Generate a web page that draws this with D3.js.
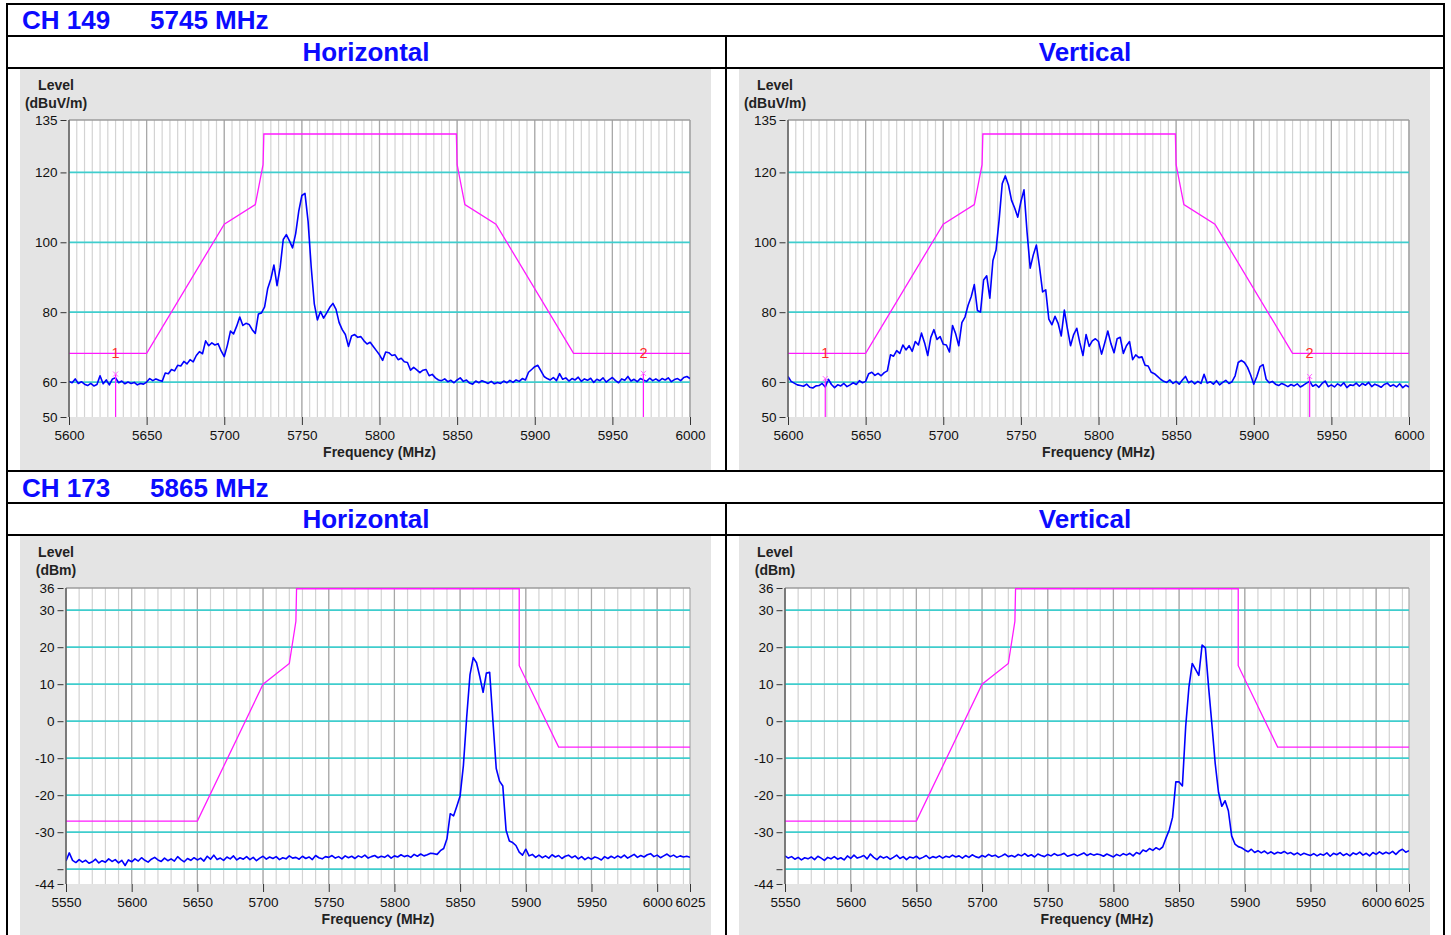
<!DOCTYPE html>
<html>
<head>
<meta charset="utf-8">
<script src="https://cdn.jsdelivr.net/npm/d3@7"></script>
<style>
body { margin: 0; background: #fff; }
</style>
</head>
<body>
<svg id="chart" width="1451" height="935"></svg>
<script>
// ---- data ----
var ch149StartMHz = 5600;
var ch149StepMHz = 2;
// CH 149, horizontal (dBuV/m), 5600..6000 every 2 MHz
var ch149Horizontal = [
    60.2, 59.8, 60.9, 59.6, 60.1, 59.4, 59.0, 59.6, 58.9, 59.3,
    61.8, 59.5, 60.6, 59.2, 60.9, 61.2, 59.8, 60.3, 59.5, 60.0,
    59.6, 59.9, 59.2, 59.6, 59.4, 60.0, 61.0, 60.4, 60.9, 60.5,
    60.2, 62.6, 62.4, 63.6, 63.2, 64.8, 64.6, 65.9, 65.2, 66.4,
    65.8, 67.6, 68.7, 68.1, 71.8, 70.4, 71.2, 70.6, 71.0, 68.9,
    67.3, 70.5, 74.6, 73.8, 76.0, 78.6, 76.2, 76.8, 76.5, 75.0,
    73.9, 79.5, 79.8, 81.5, 86.8, 89.5, 93.5, 87.6, 92.8, 100.8,
    102.2, 100.4, 98.4, 102.5, 108.9, 113.4, 114.0, 106.0, 93.0, 82.4,
    77.8, 80.2, 78.3, 79.8, 81.4, 82.5, 80.8, 77.0, 75.0, 73.6,
    70.2, 73.2, 73.6, 72.8, 73.0, 71.8, 70.9, 71.4, 70.2, 69.0,
    67.8, 66.2, 68.6, 68.4, 67.6, 67.8, 66.4, 66.8, 65.8, 65.6,
    63.4, 64.2, 63.5, 62.7, 63.4, 63.6, 61.8, 62.2, 61.2, 60.6,
    60.4, 60.9, 60.1, 60.5, 59.8, 60.6, 61.2, 60.2, 60.6, 59.7,
    59.4, 60.3, 59.8, 60.4, 60.0, 59.6, 60.2, 59.5, 59.9, 59.6,
    60.3, 59.8, 60.5, 59.9, 60.6, 60.2, 61.0, 60.6, 62.8, 63.6,
    64.4, 64.8, 63.2, 61.6, 61.0, 60.6, 61.3, 60.4, 62.4, 60.8,
    61.2, 60.3, 61.0, 60.6, 61.4, 60.2, 60.9, 60.5, 61.1, 59.9,
    60.8, 60.4, 61.2, 60.0, 60.7, 61.3, 60.4, 59.8, 60.9, 60.5,
    61.6, 60.3, 60.8, 60.1, 61.0, 60.6, 60.2, 61.1, 60.4, 60.9,
    60.3, 61.0, 60.6, 61.2, 60.1, 60.7, 61.0, 60.4, 61.3, 61.6,
    61.0
];
// CH 149, vertical
var ch149Vertical = [
    61.6, 60.2, 59.7, 59.2, 59.0, 58.8, 59.4, 58.5, 58.3, 58.9,
    59.0, 59.6, 58.6, 60.8, 59.3, 58.4, 59.2, 58.9, 59.6, 58.7,
    59.2, 59.8, 59.3, 60.4, 59.8, 60.2, 62.4, 62.8, 61.9, 62.5,
    61.8, 62.7, 63.2, 67.8, 67.4, 69.0, 68.2, 70.6, 69.2, 70.4,
    68.8, 71.6, 70.6, 74.0, 71.2, 67.6, 72.8, 75.0, 72.2, 73.0,
    70.8, 70.6, 68.6, 76.2, 73.8, 70.4, 77.0, 78.6, 82.0, 84.4,
    87.9, 80.5, 80.0, 89.2, 90.4, 84.0, 94.8, 97.8, 106.5, 116.8,
    119.0, 116.4, 112.0, 109.8, 107.2, 111.6, 115.0, 102.8, 92.6, 96.4,
    99.2, 93.0, 85.8, 86.4, 78.0, 76.4, 78.8, 76.8, 73.2, 80.6,
    75.2, 70.4, 73.6, 75.4, 71.2, 67.6, 73.6, 70.2, 71.8, 72.4,
    71.6, 68.0, 71.2, 74.6, 71.0, 68.4, 72.4, 72.8, 68.2, 70.4,
    71.6, 66.4, 67.8, 67.0, 67.2, 64.8, 64.6, 62.8, 62.4, 61.6,
    60.8, 60.2, 59.9, 60.6, 59.6, 60.2, 59.4, 60.6, 61.6, 59.8,
    60.3, 59.5, 60.2, 59.6, 62.2, 59.7, 60.1, 59.4, 60.4, 59.2,
    59.9, 60.5, 59.6, 60.1, 61.8, 65.6, 66.2, 65.6, 64.2, 62.0,
    59.4, 61.6, 64.4, 65.0, 60.8, 59.8, 60.2, 59.4, 59.0, 59.6,
    59.2, 58.7, 59.3, 58.9, 59.5, 58.6, 59.1, 59.7, 60.2, 58.8,
    59.3, 58.5, 59.6, 60.3, 58.7, 59.2, 58.6, 59.5, 58.9, 59.8,
    58.4, 59.2, 59.0, 59.7, 58.8, 59.6, 59.1, 59.9, 58.7, 59.4,
    59.0, 58.5, 59.3, 59.7, 58.8, 59.2, 58.6, 59.5, 58.4, 59.1,
    58.6
];

var ch173StartMHz = 5550;
var ch173StepMHz = 2.5;
// CH 173, horizontal (dBm), 5550..6025 every 2.5 MHz
var ch173Horizontal = [
    -37.8, -35.6, -37.6, -38.2, -37.4, -38.1, -37.6, -38.4,
    -38.0, -37.3, -38.3, -37.7, -38.1, -37.2, -37.9, -37.4,
    -38.3, -37.6, -39.0, -37.5, -38.0, -37.2, -37.8, -36.9,
    -37.6, -38.1, -37.3, -36.8, -37.5, -37.9, -37.0, -37.7,
    -37.2, -37.8, -36.6, -37.4, -38.0, -37.1, -37.6, -36.9,
    -37.5, -37.0, -37.8, -36.5, -37.3, -36.2, -37.4, -37.0,
    -37.6, -36.7, -37.2, -36.4, -37.5, -36.9, -37.3, -36.6,
    -37.4, -36.8, -37.7, -37.0, -36.5, -37.3, -36.7, -37.1,
    -36.6, -37.4, -36.9, -37.2, -36.4, -37.0, -36.8, -37.3,
    -36.5, -37.1, -36.7, -37.4, -36.3, -36.9, -37.2, -36.6,
    -36.8, -36.3, -37.0, -36.6, -37.2, -36.4, -36.9, -36.5,
    -37.1, -36.4, -36.8, -36.2, -37.0, -36.6, -36.3, -36.9,
    -36.5, -36.8, -36.2, -37.0, -36.4, -36.7, -36.1, -36.6,
    -36.3, -36.8, -36.0, -36.5, -35.9, -36.4, -36.1, -35.7,
    -35.8, -36.0, -35.0, -34.4, -31.8, -25.0, -25.6, -23.0,
    -20.2, -12.0, 1.0, 12.5, 17.2, 15.8, 12.0, 7.8,
    13.0, 13.2, 0.0, -12.8, -16.2, -17.5, -29.5, -32.4,
    -32.8, -33.6, -35.4, -36.2, -34.6, -36.4, -36.0, -36.8,
    -36.2, -36.9, -36.4, -37.0, -36.1, -36.7, -36.3, -37.1,
    -36.5, -36.2, -36.9, -36.4, -37.2, -36.6, -37.4, -36.8,
    -37.3, -36.7, -37.0, -37.5, -36.6, -37.1, -36.5, -37.0,
    -36.4, -36.9, -36.2, -37.0, -36.5, -36.0, -36.8, -36.3,
    -36.7, -36.1, -35.8, -36.6, -36.2, -36.9, -36.4, -35.9,
    -36.6, -36.2, -36.8, -36.4, -36.7, -36.5, -36.8
];
// CH 173, vertical
var ch173Vertical = [
    -36.4, -37.0, -36.6, -37.3, -36.8, -37.5, -36.9, -37.2,
    -36.7, -37.4, -36.5, -37.0, -37.6, -36.8, -37.2, -36.6,
    -37.3, -36.9, -37.5, -36.4, -37.1, -36.2, -37.0, -36.7,
    -36.3, -37.2, -35.9, -36.8, -37.4, -36.5, -37.0, -36.6,
    -37.3, -36.8, -36.2, -37.1, -36.6, -37.4, -36.7, -37.0,
    -36.5, -37.2, -36.8, -36.3, -37.1, -36.6, -36.9, -36.4,
    -37.0, -36.5, -36.8, -36.2, -36.7, -36.4, -37.0, -36.3,
    -36.8, -36.1, -36.6, -36.9, -36.3, -36.7, -36.0, -36.5,
    -36.2, -36.8, -36.4, -35.9, -36.6, -36.3, -36.7, -36.0,
    -36.4, -35.8, -36.5, -36.1, -36.7, -35.9, -36.3, -36.6,
    -36.0, -36.4, -35.8, -36.3, -36.1, -35.7, -36.5, -36.2,
    -35.9, -36.4, -36.0, -35.6, -36.3, -35.8, -36.2, -35.9,
    -36.1, -36.5, -35.9, -36.3, -36.7, -36.0, -36.4, -35.8,
    -36.2, -35.7, -36.4, -35.5, -35.9, -34.8, -35.2, -34.4,
    -34.9, -34.2, -34.7, -34.0, -31.6, -29.4, -26.0, -16.4,
    -16.4, -17.5, -1.5, 9.3, 15.6, 14.0, 12.4, 20.6,
    19.8, 9.0, -1.0, -11.5, -19.2, -23.0, -21.5, -24.2,
    -31.0, -33.2, -33.9, -34.2, -34.8, -35.3, -34.6, -35.5,
    -35.0, -35.6, -35.1, -35.8, -35.3, -35.9, -35.4, -35.7,
    -35.2, -35.8, -35.5, -36.1, -35.6, -36.2, -35.7, -36.0,
    -36.3, -35.8, -36.4, -35.9, -36.2, -35.6, -36.5, -35.7,
    -36.1, -35.5, -36.3, -35.8, -36.4, -35.6, -36.0, -35.4,
    -36.2, -35.7, -36.4, -35.5, -36.0, -35.3, -35.9, -35.4,
    -35.8, -35.2, -36.0, -35.1, -34.6, -35.4, -35.0
];

// limit lines
var ch149LimitFreq  = [5600, 5650, 5700, 5720, 5725, 5725.5, 5849.5, 5850, 5855, 5875, 5925, 6000];
var ch149LimitLevel = [68.2, 68.2, 105.2, 110.8, 122.2, 131, 131, 122.2, 110.8, 105.2, 68.2, 68.2];
var ch173LimitFreq  = [5550, 5650, 5700, 5720, 5725, 5725.5, 5895, 5895, 5925, 6025];
var ch173LimitLevel = [-27, -27, 10, 15.6, 27, 35.8, 35.8, 15, -7, -7];

// axes
var ch149YTicks = [135, 120, 100, 80, 60, 50];
var ch149YTickLabels = ["135", "120", "100", "80", "60", "50"];
var ch149GridLevels = [120, 100, 80, 60];
var ch149XTicks = [5600, 5650, 5700, 5750, 5800, 5850, 5900, 5950, 6000];
var ch173YTicks = [36, 30, 20, 10, 0, -10, -20, -30, -40, -44];
var ch173YTickLabels = ["36", "30", "20", "10", "0", "-10", "-20", "-30", "", "-44"];
var ch173GridLevels = [30, 20, 10, 0, -10, -20, -30, -40];
var ch173XTicks = [5550, 5600, 5650, 5700, 5750, 5800, 5850, 5900, 5950, 6000, 6025];

// markers 1 and 2 on the CH 149 scans
var markerNames = ["1", "2"];
var ch149HMarkerFreq = [5630, 5970];
var ch149HMarkerLevel = [62.3, 62.5];
var ch149VMarkerFreq = [5624, 5936];
var ch149VMarkerLevel = [61.0, 61.6];

// ---- drawing ----
var fontStack = "'Liberation Sans', Arial, Helvetica, sans-serif";
var titleBlue = "#0b0bff";
var svg = d3.select("#chart");

// table frame
function frameLine(x1, y1, x2, y2) {
    svg.append("line")
        .attr("x1", x1).attr("y1", y1).attr("x2", x2).attr("y2", y2)
        .attr("stroke", "#000").attr("stroke-width", 2);
}
[4, 36, 68, 471, 503, 535].forEach(function (y) { frameLine(6, y, 1445, y); });
frameLine(7, 3, 7, 935);
frameLine(1444, 3, 1444, 935);
frameLine(726, 36, 726, 471);
frameLine(726, 503, 726, 935);

function headerText(x, y, txt, anchor) {
    svg.append("text")
        .attr("x", x).attr("y", y)
        .attr("text-anchor", anchor || "start")
        .attr("font-family", fontStack)
        .attr("font-size", 26).attr("font-weight", "bold")
        .attr("fill", titleBlue)
        .text(txt);
}
headerText(22, 29, "CH 149");
headerText(150, 29, "5745 MHz");
headerText(366, 61, "Horizontal", "middle");
headerText(1085, 61, "Vertical", "middle");
headerText(22, 497, "CH 173");
headerText(150, 497, "5865 MHz");
headerText(366, 528, "Horizontal", "middle");
headerText(1085, 528, "Vertical", "middle");

var panelCount = 0;

function drawPanel(p) {
    panelCount++;
    var g = svg.append("g");

    g.append("rect")
        .attr("x", p.gx).attr("y", p.gy)
        .attr("width", 691).attr("height", p.gh)
        .attr("fill", "#e4e4e4");

    var x = d3.scaleLinear().domain([p.freqMin, p.freqMax]).range([p.left, p.right]);
    var y = d3.scaleLinear().domain(p.yDomain).range([p.bottom, p.top]);

    g.append("rect")
        .attr("x", p.left).attr("y", p.top)
        .attr("width", p.right - p.left).attr("height", p.bottom - p.top)
        .attr("fill", "#fff");

    // light vertical grid
    g.selectAll("line.minor")
        .data(d3.range(p.freqMin, p.freqMax + 0.01, p.minorStep))
        .enter().append("line")
        .attr("class", "minor")
        .attr("x1", d => x(d)).attr("x2", d => x(d))
        .attr("y1", p.top).attr("y2", p.bottom)
        .attr("stroke", "#d3d3d3").attr("stroke-width", 1.2);

    // darker lines every 50 MHz, plus the right edge
    var majors = d3.range(Math.ceil(p.freqMin / 50) * 50, p.freqMax + 0.01, 50);
    majors.push(p.freqMax);
    g.selectAll("line.major")
        .data(majors)
        .enter().append("line")
        .attr("class", "major")
        .attr("x1", d => x(d)).attr("x2", d => x(d))
        .attr("y1", p.top).attr("y2", p.bottom)
        .attr("stroke", "#a8a8a8").attr("stroke-width", 1.2);

    // cyan level grid
    g.selectAll("line.level")
        .data(p.gridLevels)
        .enter().append("line")
        .attr("class", "level")
        .attr("x1", p.left).attr("x2", p.right)
        .attr("y1", d => y(d)).attr("y2", d => y(d))
        .attr("stroke", "#3fcdcd").attr("stroke-width", 1.7);

    // top border
    g.append("line")
        .attr("x1", p.left).attr("x2", p.right)
        .attr("y1", p.top).attr("y2", p.top)
        .attr("stroke", "#9c9c9c").attr("stroke-width", 1.6);

    // clip for the curves
    var clipId = "clip" + panelCount;
    g.append("clipPath").attr("id", clipId)
        .append("rect")
        .attr("x", p.left).attr("y", p.top - 1)
        .attr("width", p.right - p.left).attr("height", p.bottom - p.top + 1);

    // limit line
    var limitPts = p.limitFreq.map((f, i) => [f, p.limitLevel[i]]);
    g.append("path")
        .datum(limitPts)
        .attr("clip-path", "url(#" + clipId + ")")
        .attr("fill", "none")
        .attr("stroke", "#ff1aff").attr("stroke-width", 1.3)
        .attr("d", d3.line().x(d => x(d[0])).y(d => y(d[1])));

    // measured trace
    g.append("path")
        .datum(p.trace)
        .attr("clip-path", "url(#" + clipId + ")")
        .attr("fill", "none")
        .attr("stroke", "#0000ff").attr("stroke-width", 1.6)
        .attr("stroke-linejoin", "round")
        .attr("d", d3.line().x((d, i) => x(p.startMHz + i * p.stepMHz)).y(d => y(d)));

    // markers
    if (p.markerFreq) {
        p.markerFreq.forEach(function (f, i) {
            var mx = x(f), my = y(p.markerLevel[i]);
            g.append("line")
                .attr("x1", mx).attr("x2", mx)
                .attr("y1", my).attr("y2", p.bottom)
                .attr("stroke", "#ff1aff").attr("stroke-width", 1.2);
            g.append("path")
                .attr("d", `M${mx - 2.5},${my - 2.5}L${mx + 2.5},${my + 2.5}M${mx + 2.5},${my - 2.5}L${mx - 2.5},${my + 2.5}`)
                .attr("stroke", "#ff66ff").attr("stroke-width", 1);
            g.append("text")
                .attr("x", mx).attr("y", y(p.markerLabelLevel) + 4.5)
                .attr("text-anchor", "middle")
                .attr("font-family", fontStack).attr("font-size", 14.5)
                .attr("fill", "#ff2a2a")
                .text(markerNames[i]);
        });
    }

    // left axis line
    g.append("line")
        .attr("x1", p.left).attr("x2", p.left)
        .attr("y1", p.top).attr("y2", p.bottom)
        .attr("stroke", "#555").attr("stroke-width", 1.3);

    var yAxis = d3.axisLeft(y)
        .tickValues(p.yTicks)
        .tickFormat((d, i) => p.yTickLabels[i])
        .tickSizeInner(6).tickSizeOuter(0).tickPadding(3);
    var ya = g.append("g")
        .attr("transform", `translate(${p.left - 2.5},0)`)
        .call(yAxis);
    ya.select(".domain").remove();
    ya.attr("font-family", fontStack).attr("font-size", 13.5);
    ya.selectAll("line").attr("stroke", "#333");
    ya.selectAll("text").attr("fill", "#111");

    var xAxis = d3.axisBottom(x)
        .tickValues(p.xTicks)
        .tickFormat(d3.format("d"))
        .tickSizeInner(8).tickSizeOuter(0).tickPadding(5);
    var xa = g.append("g")
        .attr("transform", `translate(0,${p.bottom})`)
        .call(xAxis);
    xa.select(".domain").remove();
    xa.attr("font-family", fontStack).attr("font-size", 13.5);
    xa.selectAll("line").attr("stroke", "#333");
    xa.selectAll("text").attr("fill", "#111");

    // axis titles
    function label(x0, y0, txt, anchor) {
        g.append("text")
            .attr("x", x0).attr("y", y0)
            .attr("text-anchor", anchor)
            .attr("font-family", fontStack)
            .attr("font-size", 14).attr("font-weight", "bold")
            .attr("fill", "#222")
            .text(txt);
    }
    label(p.gx + 36, p.gy + 21, "Level", "middle");
    label(p.gx + 36, p.gy + 39, p.unit, "middle");
    label((p.left + p.right) / 2, p.bottom + 40, "Frequency (MHz)", "middle");
}

// CH 149 panels
[
    {gx: 20, trace: ch149Horizontal, markerFreq: ch149HMarkerFreq, markerLevel: ch149HMarkerLevel},
    {gx: 739, trace: ch149Vertical, markerFreq: ch149VMarkerFreq, markerLevel: ch149VMarkerLevel}
].forEach(function (c) {
    drawPanel({
        gx: c.gx, gy: 69, gh: 401,
        left: c.gx + 49, right: c.gx + 670, top: 120, bottom: 417,
        freqMin: 5600, freqMax: 6000, minorStep: 5,
        yDomain: [50, 135],
        yTicks: ch149YTicks, yTickLabels: ch149YTickLabels,
        gridLevels: ch149GridLevels, xTicks: ch149XTicks,
        limitFreq: ch149LimitFreq, limitLevel: ch149LimitLevel,
        trace: c.trace, startMHz: ch149StartMHz, stepMHz: ch149StepMHz,
        markerFreq: c.markerFreq, markerLevel: c.markerLevel, markerLabelLevel: 68.2,
        unit: "(dBuV/m)"
    });
});

// CH 173 panels
[
    {gx: 20, trace: ch173Horizontal},
    {gx: 739, trace: ch173Vertical}
].forEach(function (c) {
    drawPanel({
        gx: c.gx, gy: 536, gh: 399,
        left: c.gx + 46, right: c.gx + 670, top: 588, bottom: 884,
        freqMin: 5550, freqMax: 6025, minorStep: 10,
        yDomain: [-44, 36],
        yTicks: ch173YTicks, yTickLabels: ch173YTickLabels,
        gridLevels: ch173GridLevels, xTicks: ch173XTicks,
        limitFreq: ch173LimitFreq, limitLevel: ch173LimitLevel,
        trace: c.trace, startMHz: ch173StartMHz, stepMHz: ch173StepMHz,
        unit: "(dBm)"
    });
});
</script>
</body>
</html>
